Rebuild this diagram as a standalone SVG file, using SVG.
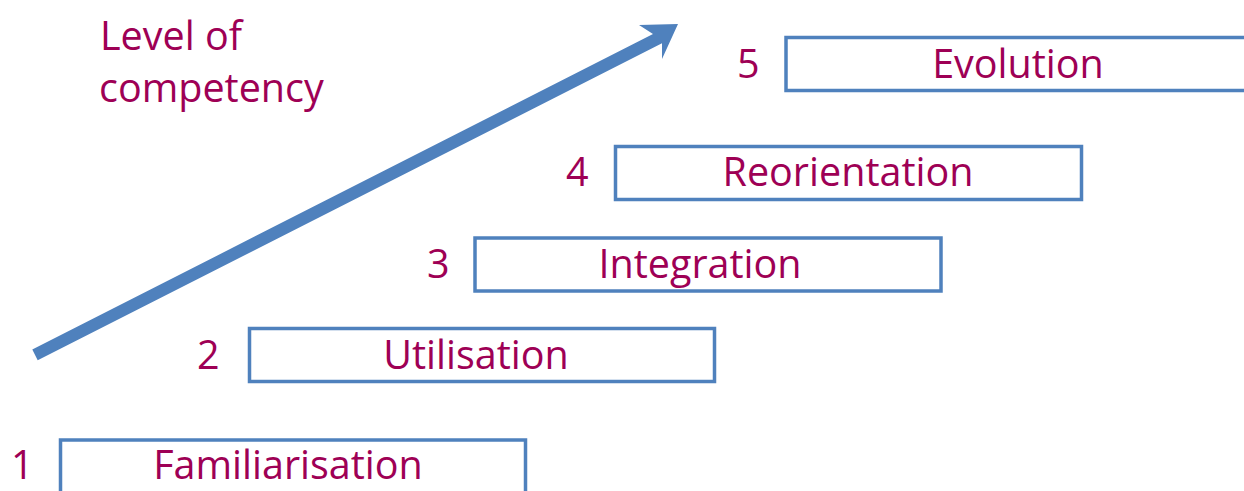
<svg xmlns="http://www.w3.org/2000/svg" width="1244" height="491" viewBox="0 0 1244 491">
  <style>
    .step { fill: #ffffff; stroke: #4f81bd; stroke-width: 3.5; }
    .lbl { font-family: "Open Sans", "Noto Sans", sans-serif; font-size: 39.5px; fill: #9e0055; }
    .mid { text-anchor: middle; }
  </style>
  <rect width="1244" height="491" fill="#ffffff"/>

  <!-- rising competency arrow -->
  <g id="connectors">
    <polygon fill="#4f81bd" points="32.3,349.6 653,34 639,25 678,24 662,59 662,43.3 37.7,360.3"/>
  </g>

  <g id="axis-label">
    <text class="lbl" x="100" y="50">Level of</text>
    <text class="lbl" x="99" y="102">competency</text>
  </g>

  <g id="step1">
    <rect class="step" x="60.5" y="440" width="465" height="60"/>
    <text class="lbl" x="11" y="479">1</text>
    <text class="lbl mid" x="288" y="479">Familiarisation</text>
  </g>
  <g id="step2">
    <rect class="step" x="249.5" y="328.5" width="465" height="53"/>
    <text class="lbl" x="197" y="369">2</text>
    <text class="lbl mid" x="476" y="369">Utilisation</text>
  </g>
  <g id="step3">
    <rect class="step" x="475" y="238" width="466" height="53"/>
    <text class="lbl" x="427" y="278">3</text>
    <text class="lbl mid" x="700" y="278">Integration</text>
  </g>
  <g id="step4">
    <rect class="step" x="615.5" y="146.5" width="466" height="53"/>
    <text class="lbl" x="566" y="186">4</text>
    <text class="lbl mid" x="848" y="186">Reorientation</text>
  </g>
  <g id="step5">
    <rect class="step" x="786" y="37.5" width="466" height="53"/>
    <text class="lbl" x="737" y="78">5</text>
    <text class="lbl mid" x="1018" y="78">Evolution</text>
  </g>
</svg>
